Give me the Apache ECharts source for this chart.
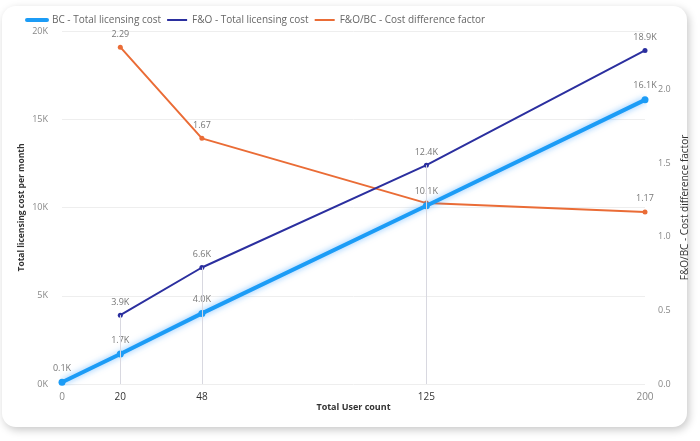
<!DOCTYPE html>
<html><head><meta charset="utf-8">
<script src="https://cdn.jsdelivr.net/npm/echarts@6/dist/echarts.min.js"></script>
<style>
html,body{margin:0;padding:0;background:#fff;width:700px;height:441px;overflow:hidden}
#card{position:absolute;left:2px;top:6px;width:685px;height:421px;border-radius:14px;background:#fff;box-shadow:2px 3px 8px rgba(0,0,0,0.22)}
#c{position:absolute;left:0;top:0;width:700px;height:441px}
</style></head>
<body><div id="card"></div><div id="c"></div>
<script>
const userCounts = [0, 20, 48, 125, 200];
const bcCost = [100, 1700, 4000, 10100, 16100];
const foUsers = [20, 48, 125, 200];
const foCost = [3900, 6600, 12400, 18900];
const factorUsers = [20, 48, 125, 200];
const factor = [2.29, 1.67, 1.23, 1.17];
const factorLabelShown = [true, true, false, true];
const xTicks = [0, 20, 48, 125, 200];
const dropUsers = [20, 48, 125];

const font = "'Segoe UI','Open Sans','Noto Sans',sans-serif";
const kFmt = v => (v / 1000).toFixed(1) + 'K';
const chart = echarts.init(document.getElementById('c'), null, {renderer: 'canvas'});

const dropLines = dropUsers.map(u => {
  const i = foUsers.indexOf(u);
  return [{coord: [u, 0]}, {coord: [u, foCost[i]]}];
});

chart.setOption({
  animation: false,
  textStyle: {fontFamily: font},
  grid: {left: 62, right: 55, top: 31, bottom: 57},
  legend: {
    left: 20, top: 10, itemWidth: 20, itemHeight: 6, itemGap: 5,
    textStyle: {color: '#666', fontSize: 10, fontFamily: font},
    data: [
      {name: 'BC - Total licensing cost', lineStyle: {width: 4, cap: 'round'}, itemStyle: {opacity: 0}},
      {name: 'F&O - Total licensing cost', lineStyle: {width: 2}, itemStyle: {opacity: 0}},
      {name: 'F&O/BC - Cost difference factor', lineStyle: {width: 2}, itemStyle: {opacity: 0}}
    ]
  },
  xAxis: {
    type: 'value', min: 0, max: 200,
    name: 'Total User count', nameLocation: 'middle', nameGap: 19, nameMoveOverlap: false,
    nameTextStyle: {color: '#333', fontSize: 9, fontWeight: 'bold', fontFamily: font},
    axisLine: {show: false}, axisTick: {show: false}, splitLine: {show: false},
    axisLabel: {
      customValues: xTicks, margin: 8, fontSize: 10, color: '#888',
      formatter: v => (v === 0 || v === 200) ? String(v) : '{d|' + v + '}',
      rich: {d: {color: '#333', fontSize: 10, fontFamily: font}}
    }
  },
  yAxis: [
    {
      type: 'value', min: 0, max: 20000, interval: 5000,
      name: 'Total licensing cost per month', nameLocation: 'middle', nameGap: 36, nameMoveOverlap: false,
      nameTextStyle: {color: '#333', fontSize: 8.5, fontWeight: 'bold', fontFamily: font},
      axisLine: {show: false}, axisTick: {show: false},
      axisLabel: {formatter: v => (v / 1000) + 'K', color: '#888', fontSize: 9, margin: 14},
      splitLine: {lineStyle: {color: '#eeeeee', width: 1}}
    },
    {
      type: 'value', min: 0, max: 2.4, interval: 0.5,
      name: 'F&O/BC - Cost difference factor', nameLocation: 'middle', nameGap: 35, nameMoveOverlap: false,
      nameTextStyle: {color: '#333', fontSize: 10, fontFamily: font},
      axisLine: {show: false}, axisTick: {show: false},
      axisLabel: {formatter: v => v.toFixed(1), color: '#888', fontSize: 9, margin: 13, showMaxLabel: false},
      splitLine: {show: false}
    }
  ],
  series: [
    {
      name: 'F&O - Total licensing cost', type: 'line', yAxisIndex: 0, z: 3,
      data: foUsers.map((u, i) => [u, foCost[i]]),
      symbol: 'circle', symbolSize: 5,
      lineStyle: {color: '#2b2f9f', width: 2}, itemStyle: {color: '#2b2f9f'},
      label: {show: true, position: 'top', distance: 6, color: '#777', fontSize: 9, formatter: p => kFmt(p.value[1])},
      markLine: {
        silent: true, symbol: 'none', label: {show: false},
        lineStyle: {color: '#d8d8e0', width: 1, type: 'solid'},
        data: dropLines
      }
    },
    {
      name: 'F&O/BC - Cost difference factor', type: 'line', yAxisIndex: 1, z: 2,
      data: factorUsers.map((u, i) => ({value: [u, factor[i]], label: {show: factorLabelShown[i]}})),
      symbol: 'circle', symbolSize: 5,
      lineStyle: {color: '#ea6c36', width: 2}, itemStyle: {color: '#ea6c36'},
      label: {show: true, position: 'top', distance: 6, color: '#777', fontSize: 9, formatter: p => p.value[1].toFixed(2)}
    },
    {
      name: 'BC - Total licensing cost', type: 'line', yAxisIndex: 0, z: 4,
      data: userCounts.map((u, i) => [u, bcCost[i]]),
      symbol: 'circle', symbolSize: 7,
      lineStyle: {color: '#1c9cf6', width: 4, shadowColor: 'rgba(20,140,255,0.55)', shadowBlur: 6},
      itemStyle: {color: '#1c9cf6'},
      label: {show: true, position: 'top', distance: 6, color: '#777', fontSize: 9, formatter: p => kFmt(p.value[1])}
    }
  ]
});
</script></body></html>
